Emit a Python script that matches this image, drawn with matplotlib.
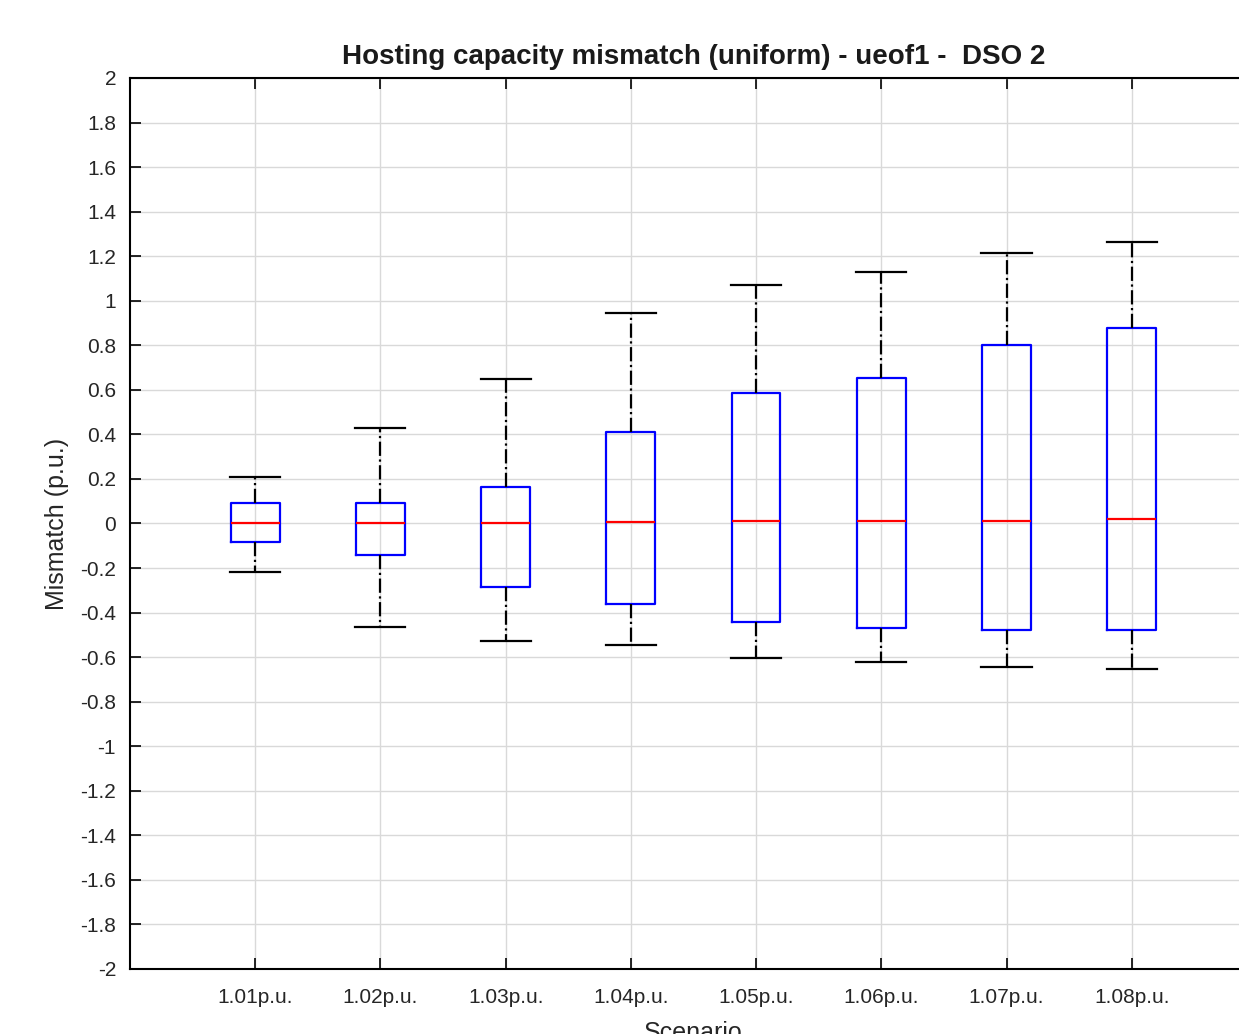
import numpy as np
import matplotlib
matplotlib.use("Agg")
import matplotlib.pyplot as plt
from matplotlib.ticker import FuncFormatter

plt.rcParams['font.family'] = ['Liberation Sans', 'DejaVu Sans']
plt.rcParams['axes.unicode_minus'] = False

# scenario labels and box statistics
scenarios = ['1.01p.u.', '1.02p.u.', '1.03p.u.', '1.04p.u.',
             '1.05p.u.', '1.06p.u.', '1.07p.u.', '1.08p.u.']
whisk_hi = [0.21, 0.43, 0.65, 0.945, 1.07, 1.13, 1.215, 1.265]
q3 = [0.09, 0.09, 0.165, 0.41, 0.585, 0.655, 0.80, 0.878]
med = [0.0, 0.0, 0.0, 0.005, 0.012, 0.012, 0.012, 0.02]
q1 = [-0.083, -0.14, -0.285, -0.36, -0.442, -0.47, -0.478, -0.478]
whisk_lo = [-0.218, -0.467, -0.527, -0.545, -0.604, -0.622, -0.644, -0.653]

stats = []
for i in range(len(scenarios)):
    stats.append(dict(whislo=whisk_lo[i], q1=q1[i], med=med[i], q3=q3[i],
                      whishi=whisk_hi[i], fliers=[], label=scenarios[i]))


def yfmt(v, p):
    v = round(v, 1)
    if v == 0:
        return '0'
    return f"{v:g}"


fig = plt.figure(figsize=(12.39, 10.34), dpi=100)
ax = fig.add_axes([0.1049, 0.0629, 0.9096, 0.8617])

pos = np.arange(1, len(scenarios) + 1)
ax.bxp(stats, positions=pos, widths=0.39, showfliers=False,
       boxprops=dict(color='blue', linewidth=1.6),
       medianprops=dict(color='red', linewidth=1.6),
       whiskerprops=dict(color='black', linestyle='-.', linewidth=1.6),
       capprops=dict(color='black', linewidth=1.6),
       capwidths=0.4)

ax.set_xlim(0, 9)
ax.set_ylim(-2, 2)
ax.set_xticks(pos)
ax.set_xticklabels(scenarios, fontsize=15, color='#262626')
ax.set_yticks(np.arange(-2, 2.01, 0.2))
ax.yaxis.set_major_formatter(FuncFormatter(yfmt))
ax.tick_params(axis='y', labelsize=15, labelcolor='#262626', pad=10)
ax.tick_params(axis='x', pad=14)
ax.tick_params(direction='in', length=8, width=1.2, top=True, right=True)
ax.grid(True, color='#d9d9d9', linewidth=1.0)
ax.set_axisbelow(True)
for s in ax.spines.values():
    s.set_linewidth(1.5)

ax.set_title('Hosting capacity mismatch (uniform) - ueof1 -  DSO 2',
             fontsize=20, fontweight='bold', color='#1a1a1a', pad=10)
ax.set_ylabel('Mismatch (p.u.)', fontsize=18, color='#262626', labelpad=8)
ax.set_xlabel('Scenario', fontsize=18, color='#262626', labelpad=10)

fig.savefig('out.png', dpi=100)
